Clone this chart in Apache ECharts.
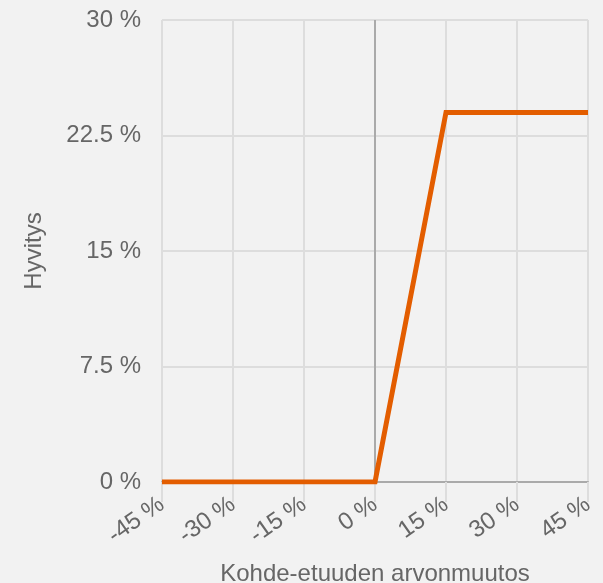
<!DOCTYPE html>
<html>
<head>
<meta charset="utf-8">
<script src="https://cdn.jsdelivr.net/npm/echarts@6/dist/echarts.min.js"></script>
<style>
  html, body { margin: 0; padding: 0; background: #f2f2f2; }
  #chart { width: 603px; height: 583px; }
</style>
</head>
<body>
<div id="chart"></div>
<script>
// payoff profile: underlying change (%) -> compensation (%)
var changePct = [-45, 0, 15, 45];
var payoffPct = [0, 0, 24, 24];
var xTicks = { min: -45, max: 45, step: 15 };
var yTicks = { min: 0, max: 30, step: 7.5 };

var chart = echarts.init(document.getElementById('chart'));
var font = '"Liberation Sans", Arial, sans-serif';

chart.setOption({
    backgroundColor: '#f2f2f2',
    animation: false,
    textStyle: { fontFamily: font },
    grid: { left: 162, right: 15, top: 20, bottom: 101, containLabel: false, outerBoundsMode: 'none' },
    xAxis: {
        type: 'value',
        min: xTicks.min,
        max: xTicks.max,
        interval: xTicks.step,
        name: 'Kohde-etuuden arvonmuutos',
        nameLocation: 'middle',
        nameGap: 80,
        nameTextStyle: { color: '#666', fontSize: 24, fontFamily: font },
        axisLine: { show: true, onZero: false, lineStyle: { color: '#aaa', width: 2 } },
        axisTick: { show: true, length: 20, lineStyle: { color: '#ddd', width: 2 } },
        axisLabel: {
            color: '#666', fontSize: 24, fontFamily: font, rotate: 35, margin: 20,
            formatter: function (v) { return v + ' %'; }
        },
        splitLine: { show: true, lineStyle: { color: '#ddd', width: 2 } }
    },
    yAxis: {
        type: 'value',
        min: yTicks.min,
        max: yTicks.max,
        interval: yTicks.step,
        name: 'Hyvitys',
        nameLocation: 'middle',
        nameGap: 116,
        nameTextStyle: { color: '#666', fontSize: 24, fontFamily: font },
        axisLine: { show: true, lineStyle: { color: '#ddd', width: 2 } },
        axisTick: { show: true, length: 20, lineStyle: { color: '#ddd', width: 2 } },
        axisLabel: {
            color: '#666', fontSize: 24, fontFamily: font, margin: 21,
            formatter: function (v) { return v + ' %'; }
        },
        splitLine: { show: true, lineStyle: { color: '#ddd', width: 2 } }
    },
    series: [{
        type: 'line',
        data: changePct.map(function (x, i) { return [x, payoffPct[i]]; }),
        symbol: 'none',
        lineStyle: { color: '#e35d00', width: 5, join: 'miter' },
        itemStyle: { color: '#e35d00' },
        z: 5,
        markLine: {
            silent: true,
            symbol: 'none',
            label: { show: false },
            lineStyle: { color: '#aaa', width: 2, type: 'solid' },
            data: [{ xAxis: 0 }],
            z: 1
        }
    }]
});
</script>
</body>
</html>
